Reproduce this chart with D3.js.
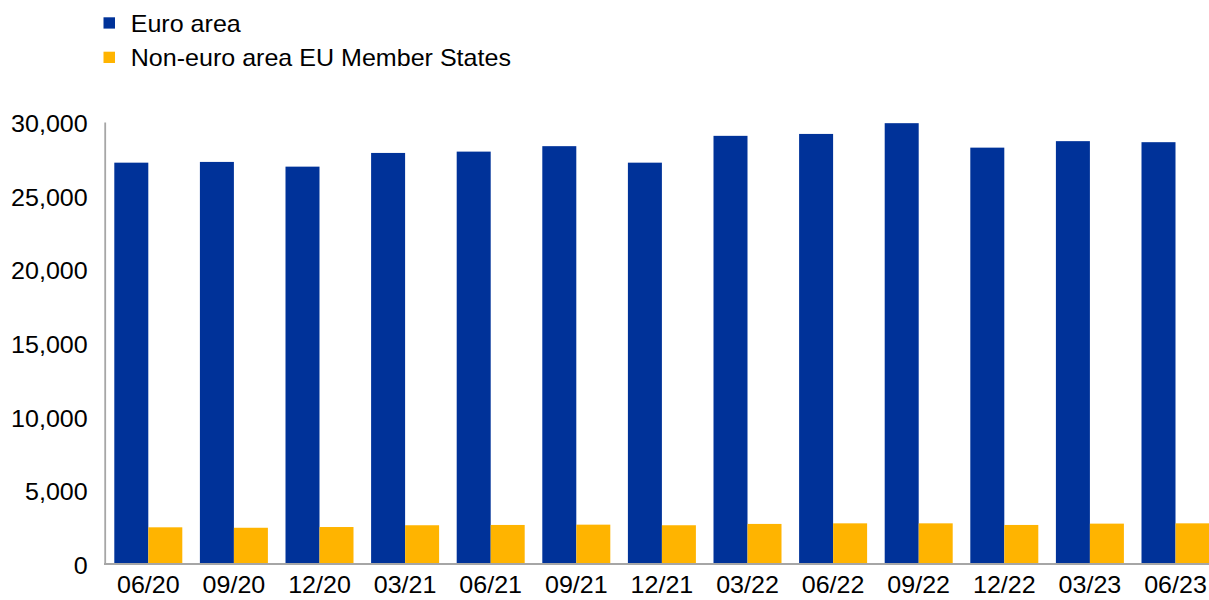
<!DOCTYPE html>
<html>
<head>
<meta charset="utf-8">
<script src="https://cdn.jsdelivr.net/npm/d3@7"></script>
<style>
  html, body { margin: 0; padding: 0; background: #fff; }
  svg { display: block; }
  text { font-family: "Liberation Sans", Arial, sans-serif; fill: #000; }
</style>
</head>
<body>
<svg id="chart" width="1209" height="600"></svg>
<script>
const categories = ["06/20","09/20","12/20","03/21","06/21","09/21","12/21","03/22","06/22","09/22","12/22","03/23","06/23"];
const seriesNames = ["Euro area", "Non-euro area EU Member States"];
const euroArea = [27240, 27290, 26970, 27900, 27990, 28360, 27240, 29060, 29190, 29920, 28260, 28700, 28630];
const nonEuroArea = [2490, 2460, 2510, 2630, 2650, 2670, 2630, 2720, 2760, 2760, 2650, 2740, 2760];
const yTicks = [0, 5000, 10000, 15000, 20000, 25000, 30000];
const colors = ["#003299", "#FFB400"];

const svg = d3.select("#chart");
const fontSize = 23;
const sx = 1.09; // horizontal stretch of the reference text

const x0 = d3.scaleBand().domain(categories).range([105.5, 105.5 + 13 * 85.6]).padding(0);
const x1 = d3.scaleBand().domain(seriesNames).range([8.8, 76.8]).padding(0);
const y = d3.scaleLinear().domain([0, 30000]).range([564, 122]);

// bars
const data = categories.map((c, i) => ({ cat: c, values: [euroArea[i], nonEuroArea[i]] }));
const groups = svg.append("g").selectAll("g").data(data).join("g")
  .attr("transform", d => `translate(${x0(d.cat)},0)`);
groups.selectAll("rect").data(d => d.values.map((v, j) => ({ name: seriesNames[j], v, j })))
  .join("rect")
  .attr("x", d => x1(d.name))
  .attr("width", x1.bandwidth())
  .attr("y", d => y(d.v))
  .attr("height", d => y(0) - y(d.v))
  .attr("fill", d => colors[d.j]);

// y axis
const yAxis = svg.append("g").attr("transform", "translate(104.7,0)")
  .call(d3.axisLeft(y).tickValues(yTicks).tickFormat(d3.format(",")).tickSize(0).tickSizeOuter(0).tickPadding(17));
yAxis.select(".domain").attr("stroke", "#a6a6a6").attr("stroke-width", 1.8);
yAxis.selectAll("text").attr("font-size", fontSize).attr("dy", "0.42em")
  .attr("x", -17 / sx).attr("transform", `scale(${sx},1)`)
  .style("font-family", "'Liberation Sans', Arial, sans-serif");

// x axis
const xAxis = svg.append("g").attr("transform", "translate(0,564)")
  .call(d3.axisBottom(x0).tickSize(0).tickSizeOuter(0).tickPadding(13).offset(0));
xAxis.select(".domain").remove();
xAxis.append("line").attr("x1", x0.range()[0] - 1.5).attr("x2", 1209).attr("y1", 0).attr("y2", 0)
  .attr("stroke", "#a6a6a6").attr("stroke-width", 1.8);
xAxis.selectAll(".tick").attr("transform", d => `translate(${x0(d) + 8.8 + 34},0)`);
xAxis.selectAll("text").attr("font-size", fontSize).attr("transform", `scale(${sx},1)`)
  .style("font-family", "'Liberation Sans', Arial, sans-serif");

// legend
const legend = svg.append("g");
seriesNames.forEach((name, i) => {
  const yy = 17.3 + i * 34.4;
  legend.append("rect").attr("x", 103.5).attr("y", yy).attr("width", 11.5).attr("height", 11.3).attr("fill", colors[i]);
  legend.append("text").attr("transform", `translate(130.7,${yy + 14.4}) scale(${sx},1)`)
    .attr("font-size", fontSize).text(name);
});
</script>
</body>
</html>
